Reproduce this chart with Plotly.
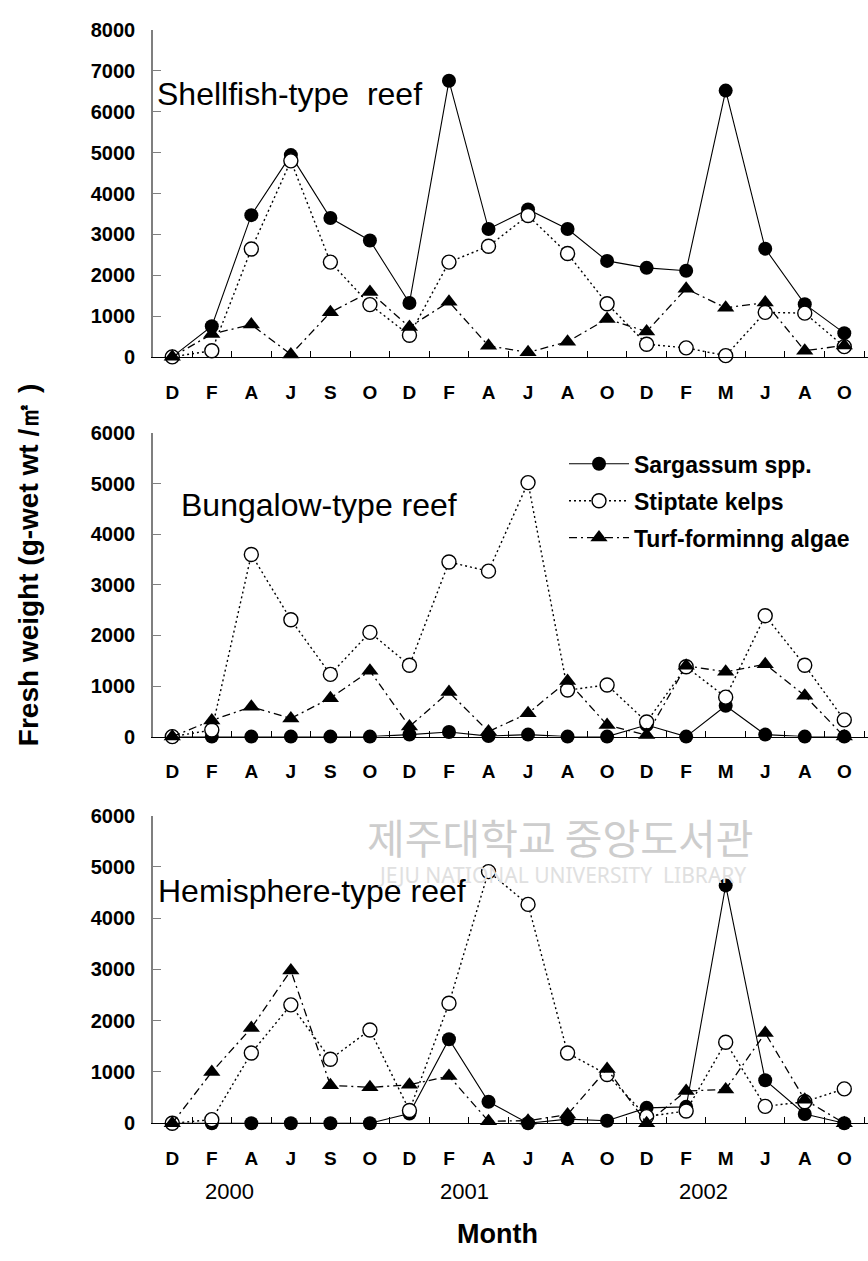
import plotly.graph_objects as go

# ---------------- data ----------------
months = ["D", "F", "A", "J", "S", "O", "D", "F", "A", "J", "A", "O", "D", "F", "M", "J", "A", "O"]

series_names = ["Sargassum spp.", "Stiptate kelps", "Turf-forminng algae"]

shell_sarg = [0, 750, 3470, 4940, 3400, 2850, 1320, 6760, 3130, 3610, 3130, 2350, 2180, 2110, 6520, 2650, 1290, 580]
shell_kelp = [0, 150, 2640, 4800, 2320, 1280, 530, 2320, 2710, 3460, 2530, 1300, 310, 220, 30, 1090, 1070, 250]
shell_turf = [0, 560, 790, 60, 1090, 1590, 730, 1350, 270, 110, 370, 930, 620, 1670, 1200, 1330, 150, 280]

bung_sarg = [0, 0, 0, 0, 0, 0, 40, 90, 10, 40, 0, 0, 230, 0, 610, 40, 0, 0]
bung_kelp = [0, 130, 3600, 2310, 1230, 2060, 1410, 3450, 3270, 5020, 920, 1020, 290, 1380, 780, 2390, 1410, 330]
bung_turf = [0, 320, 590, 360, 760, 1300, 200, 880, 100, 460, 1100, 230, 30, 1400, 1280, 1430, 810, 0]

hemi_sarg = [0, 0, 0, 0, 0, 0, 190, 1640, 420, 0, 80, 50, 300, 320, 4640, 840, 180, 0]
hemi_kelp = [0, 70, 1370, 2310, 1250, 1820, 250, 2340, 4910, 4270, 1370, 950, 130, 240, 1580, 330, 420, 670]
hemi_turf = [0, 1000, 1860, 2980, 740, 700, 750, 920, 40, 50, 170, 1060, 0, 630, 660, 1760, 460, 0]

panel_titles = ["Shellfish-type  reef", "Bungalow-type reef", "Hemisphere-type reef"]
y_max = [8000, 6000, 6000]

years = ["2000", "2001", "2002"]
year_pos = [1.45, 7.4, 13.45]

# ---------------- layout helpers ----------------
W, H = 868, 1261


def px(x):
    return x / W


def py(y):
    return 1 - y / H


x_idx = list(range(len(months)))
panels = [
    (shell_sarg, shell_kelp, shell_turf),
    (bung_sarg, bung_kelp, bung_turf),
    (hemi_sarg, hemi_kelp, hemi_turf),
]
# pixel extents (top, bottom) of each plot area
panel_px = [(19.5, 352), (429.5, 738.5), (819, 1132)]

FONT = "Liberation Sans, Arial, sans-serif"
fig = go.Figure()

styles = [
    dict(line=dict(color="black", width=1.1, dash="solid"),
         marker=dict(symbol="circle", size=14, color="black")),
    dict(line=dict(color="black", width=1.4, dash="2px,3px"),
         marker=dict(symbol="circle", size=14, color="white", line=dict(color="black", width=1.4))),
    dict(line=dict(color="black", width=1.3, dash="8px,4px,2px,4px"),
         marker=dict(symbol="triangle-up", size=15, color="black")),
]

for p, data in enumerate(panels):
    xa = "x" if p == 0 else f"x{p+1}"
    ya = "y" if p == 0 else f"y{p+1}"
    for s, vals in enumerate(data):
        fig.add_trace(go.Scatter(
            x=x_idx, y=vals, mode="lines+markers", name=series_names[s],
            xaxis=xa, yaxis=ya, cliponaxis=False,
            showlegend=(p == 1), legendgroup=series_names[s],
            line=styles[s]["line"], marker=styles[s]["marker"],
        ))

layout = dict(
    width=W, height=H,
    margin=dict(l=0, r=0, t=0, b=0),
    paper_bgcolor="white", plot_bgcolor="white",
    font=dict(family=FONT, color="black"),
    showlegend=True,
    legend=dict(
        x=px(564), y=py(439), xanchor="left", yanchor="top",
        font=dict(family=FONT, size=23, weight="bold", color="black"),
        itemwidth=60, traceorder="grouped", tracegroupgap=4,
        bgcolor="rgba(0,0,0,0)", borderwidth=0,
    ),
)

for p in range(3):
    top, bot = panel_px[p]
    xk = "xaxis" if p == 0 else f"xaxis{p+1}"
    yk = "yaxis" if p == 0 else f"yaxis{p+1}"
    ya = "y" if p == 0 else f"y{p+1}"
    xa = "x" if p == 0 else f"x{p+1}"
    layout[xk] = dict(
        domain=[px(152.5), 1], range=[-0.5, 17.6], anchor=ya,
        showline=True, linecolor="black", linewidth=1,
        tickmode="array", tickvals=x_idx, ticktext=months,
        ticks="", ticklabelstandoff=18,
        tickfont=dict(family=FONT, size=19, weight="bold", color="black"),
        showgrid=False, zeroline=False, fixedrange=True,
        minor=dict(tickmode="array", tickvals=[i + 0.5 for i in x_idx],
                   ticks="inside", ticklen=6, tickcolor="black", tickwidth=1, showgrid=False),
    )
    layout[yk] = dict(
        domain=[py(bot), py(top)], range=[0, y_max[p]], anchor=xa,
        tickmode="linear", tick0=0, dtick=1000,
        ticks="inside", ticklen=8, tickcolor="#7f7f7f", tickwidth=1,
        showline=True, linecolor="#7f7f7f", linewidth=1.3,
        tickfont=dict(family=FONT, size=20, weight="bold", color="black"),
        ticklabelstandoff=12,
        showgrid=False, zeroline=False, fixedrange=True,
    )

fig.update_layout(**layout)

# panel titles
title_pos = [(155, 84), (179, 503), (156, 896)]
for t, (tx, ty) in zip(panel_titles, title_pos):
    fig.add_annotation(text=t, x=px(tx), y=py(ty), xref="paper", yref="paper",
                       xanchor="left", yanchor="middle", showarrow=False,
                       font=dict(family=FONT, size=32, color="black"))

# year labels
for yr, pos in zip(years, year_pos):
    fig.add_annotation(text=yr, x=pos, y=py(1201), xref="x3", yref="paper",
                       xanchor="center", yanchor="middle", showarrow=False,
                       font=dict(family=FONT, size=22, color="black"))

# axis titles
fig.add_annotation(text="Month", x=px(497), y=py(1245), xref="paper", yref="paper",
                   showarrow=False, xanchor="center", yanchor="middle",
                   font=dict(family=FONT, size=27, weight="bold", color="black"))
fig.add_annotation(text="Fresh weight (g-wet wt /㎡ )", x=px(28), y=py(564),
                   xref="paper", yref="paper", textangle=-90,
                   showarrow=False, xanchor="center", yanchor="middle",
                   font=dict(family=FONT, size=28, weight="bold", color="black"))

# library watermark
fig.add_annotation(text="제주대학교 중앙도서관", x=px(560), y=py(840), xref="paper", yref="paper",
                   showarrow=False, xanchor="center", yanchor="middle",
                   font=dict(family="Noto Sans CJK KR", size=41, color="#cdcdcd"))
fig.add_annotation(text="JEJU NATIONAL UNIVERSITY  LIBRARY", x=px(562), y=py(879),
                   xref="paper", yref="paper", showarrow=False,
                   xanchor="center", yanchor="middle",
                   font=dict(family="Noto Sans, sans-serif", size=21, color="#e0e0e0"))

fig.write_html("out.html", config={"displayModeBar": False, "staticPlot": True},
               post_script="document.body.style.margin='0';")
